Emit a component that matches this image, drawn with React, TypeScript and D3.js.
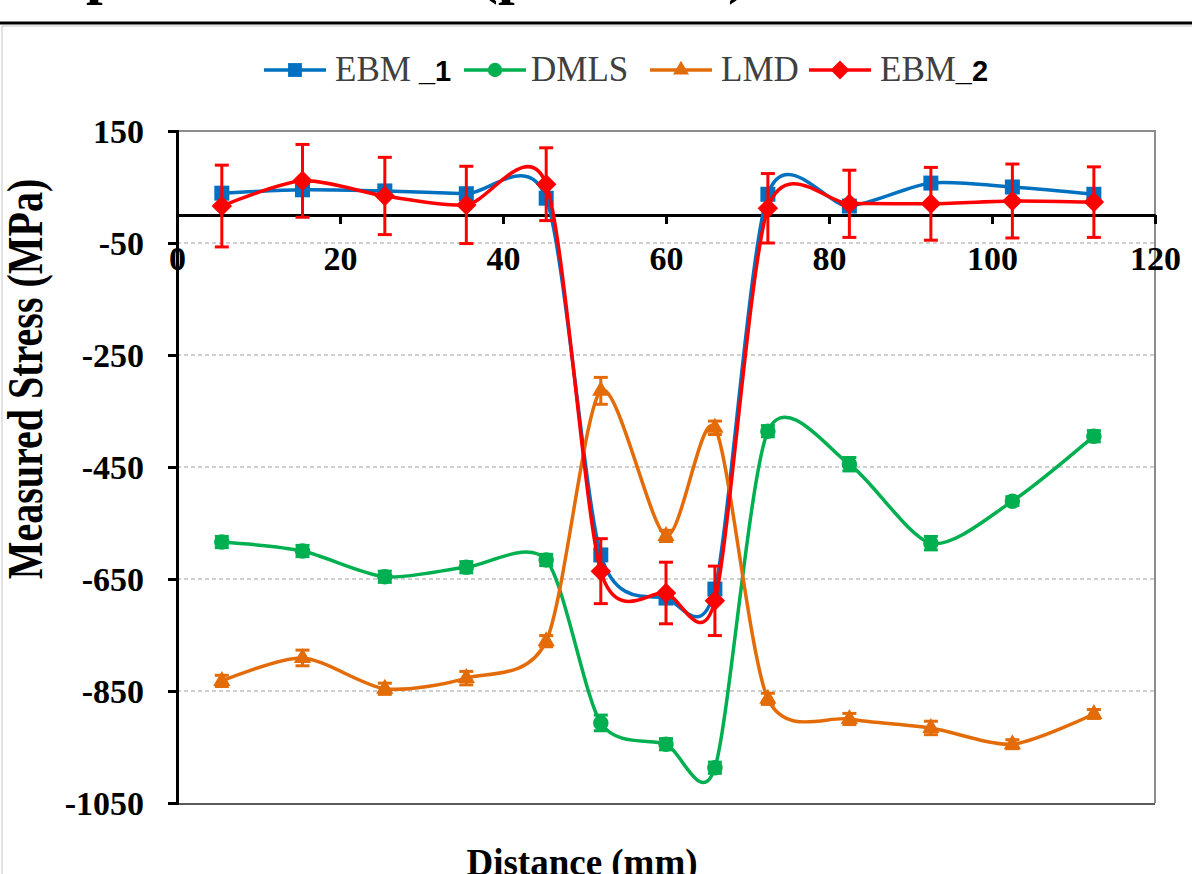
import React, { useRef, useEffect } from 'react'
import * as d3 from 'd3'

// distance along the sample (mm)
const distance = [5.5, 15.4, 25.5, 35.5, 45.3, 52, 60, 66, 72.5, 82.5, 92.5, 102.5, 112.5]

// measured stress (MPa)
const ebm1 = [39, 45, 43, 38, 30, -607, -684, -668, 37, 16, 57, 50, 37]
const dmls = [-584, -600, -646, -629, -616, -907, -945, -987, -386, -445, -586, -511, -395]
const dmlsErr = [10, 10, 10, 10, 10, 14, 10, 10, 10, 12, 12, 8, 10]
const lmd = [-832, -791, -846, -827, -761, -314, -573, -380, -864, -900, -916, -945, -891]
const lmdErr = [10, 14, 10, 12, 10, 24, 10, 12, 10, 10, 12, 8, 8]
const ebm2 = [16, 61, 34, 18, 55, -636, -675, -689, 12, 20, 20, 25, 23]
const ebm2Err = [73, 65, 69, 69, 65, 58, 55, 62, 62, 60, 65, 66, 63]

const xTicks = [0, 20, 40, 60, 80, 100, 120]
const yTicks = [150, -50, -250, -450, -650, -850, -1050]
const gridTicks = [-50, -250, -450, -650, -850]

const App = () => {
    const ref = useRef(null)
    useEffect(() => {
        document.body.style.margin = '0'
        const w = 1192
        const h = 874
        const svg = d3.select(ref.current)
            .attr('width', w)
            .attr('height', h)
            .style('background', 'white')
        svg.selectAll('*').remove()

        const serif = '"Liberation Serif", "Times New Roman", serif'
        const sans = '"Liberation Sans", Arial, sans-serif'

        // cropped title above the chart, only descenders show
        const title = svg.append('g')
            .style('font-family', serif)
            .style('font-weight', 'bold')
            .style('font-size', '60px')
            .attr('fill', 'black')
        title.append('text').attr('x', 86).attr('y', -8).text('p')
        title.append('text').attr('x', 478).attr('y', -8).text('(p')
        title.append('text').attr('x', 728).attr('y', -8).text(')')

        svg.append('line')
            .attr('x1', 0).attr('x2', w).attr('y1', 23).attr('y2', 23)
            .attr('stroke', 'black').attr('stroke-width', 3)
        svg.append('rect')
            .attr('x', 2).attr('y', 26).attr('width', w + 10).attr('height', h)
            .attr('fill', 'none').attr('stroke', '#d9d9d9').attr('stroke-width', 1.5)

        // scales
        const xScale = d3.scaleLinear().domain([0, 120]).range([177, 1155])
        const yScale = d3.scaleLinear().domain([-1050, 150]).range([803, 131])

        // dashed grid
        svg.append('g')
            .selectAll('line')
            .data(gridTicks)
            .join('line')
            .attr('x1', xScale(0)).attr('x2', xScale(120))
            .attr('y1', d => yScale(d)).attr('y2', d => yScale(d))
            .attr('stroke', '#c0c0c0')
            .attr('stroke-width', 1.5)
            .attr('stroke-dasharray', '4,3')

        // plot frame
        svg.append('path')
            .attr('d', `M${xScale(0)},${yScale(150)}H${xScale(120)}V${yScale(-1050)}`)
            .attr('fill', 'none').attr('stroke', '#8c8c8c').attr('stroke-width', 2)
        svg.append('line')
            .attr('x1', xScale(0)).attr('x2', xScale(120))
            .attr('y1', yScale(-1050) + 1).attr('y2', yScale(-1050) + 1)
            .attr('stroke', '#595959').attr('stroke-width', 2)

        // y axis
        const yAxis = d3.axisLeft(yScale)
            .tickValues(yTicks)
            .tickFormat(d => String(d))
            .tickSize(9)
            .tickPadding(24)
        const yg = svg.append('g')
            .attr('transform', `translate(${xScale(0)},0)`)
            .call(yAxis)
        yg.select('.domain').attr('stroke', 'black').attr('stroke-width', 3)
        yg.selectAll('.tick line').attr('stroke', 'black').attr('stroke-width', 3)
        yg.selectAll('text')
            .style('font-family', serif)
            .style('font-weight', 'bold')
            .style('font-size', '34px')
            .attr('fill', 'black')
            .attr('dy', '0.34em')

        // x axis on the zero line
        const xAxis = d3.axisBottom(xScale)
            .tickValues(xTicks)
            .tickFormat(d => String(d))
            .tickSize(9)
            .tickPadding(22)
            .tickSizeOuter(0)
        const xg = svg.append('g')
            .attr('transform', `translate(0,${yScale(0)})`)
            .call(xAxis)
        xg.select('.domain').attr('stroke', 'black').attr('stroke-width', 3)
        xg.selectAll('.tick line').attr('stroke', 'black').attr('stroke-width', 3)
        xg.selectAll('text')
            .style('font-family', serif)
            .style('font-weight', 'bold')
            .style('font-size', '34px')
            .attr('fill', 'black')

        // axis titles
        svg.append('text')
            .attr('transform', `translate(42,379) rotate(-90) scale(0.8,1)`)
            .attr('text-anchor', 'middle')
            .style('font-family', serif)
            .style('font-weight', 'bold')
            .style('font-size', '50px')
            .attr('fill', 'black')
            .text('Measured Stress (MPa)')
        svg.append('text')
            .attr('x', 582).attr('y', 875)
            .attr('text-anchor', 'middle')
            .style('font-family', serif)
            .style('font-weight', 'bold')
            .style('font-size', '37px')
            .attr('fill', 'black')
            .text('Distance (mm)')

        // series
        const series = [
            { name: 'EBM', tag: ' _1', values: ebm1, err: null, color: '#0070C0', symbol: d3.symbolSquare, size: 225, rot: 0 },
            { name: 'DMLS', tag: '', values: dmls, err: dmlsErr, color: '#00B050', symbol: d3.symbolCircle, size: 190, rot: 0 },
            { name: 'LMD', tag: '', values: lmd, err: lmdErr, color: '#E36C09', symbol: d3.symbolTriangle, size: 130, rot: 0 },
            { name: 'EBM', tag: '_2', values: ebm2, err: ebm2Err, color: '#FF0000', symbol: d3.symbolSquare, size: 210, rot: 45 },
        ]

        const line = d3.line()
            .x(d => xScale(d[0]))
            .y(d => yScale(d[1]))
            .curve(d3.curveCardinal.tension(0.2))

        series.forEach(s => {
            const pts = distance.map((d, i) => [d, s.values[i]])
            const g = svg.append('g')
            g.append('path')
                .datum(pts)
                .attr('d', line)
                .attr('fill', 'none')
                .attr('stroke', s.color)
                .attr('stroke-width', 3.5)

            if (s.err) {
                const err = s.err
                const eb = g.append('g')
                    .selectAll('g')
                    .data(pts)
                    .join('g')
                    .attr('stroke', s.color)
                    .attr('stroke-width', 3)
                eb.append('line')
                    .attr('x1', d => xScale(d[0])).attr('x2', d => xScale(d[0]))
                    .attr('y1', (d, i) => yScale(d[1] + err[i]))
                    .attr('y2', (d, i) => yScale(d[1] - err[i]))
                eb.append('line')
                    .attr('x1', d => xScale(d[0]) - 7).attr('x2', d => xScale(d[0]) + 7)
                    .attr('y1', (d, i) => yScale(d[1] + err[i]))
                    .attr('y2', (d, i) => yScale(d[1] + err[i]))
                eb.append('line')
                    .attr('x1', d => xScale(d[0]) - 7).attr('x2', d => xScale(d[0]) + 7)
                    .attr('y1', (d, i) => yScale(d[1] - err[i]))
                    .attr('y2', (d, i) => yScale(d[1] - err[i]))
            }

            g.append('g')
                .selectAll('path')
                .data(pts)
                .join('path')
                .attr('d', d3.symbol(s.symbol, s.size))
                .attr('transform', d => `translate(${xScale(d[0])},${yScale(d[1])}) rotate(${s.rot})`)
                .attr('fill', s.color)
        })

        // legend
        const legendX = [264, 464, 650, 809]
        const legend = svg.append('g')
        series.forEach((s, i) => {
            const lg = legend.append('g').attr('transform', `translate(${legendX[i]},70)`)
            lg.append('line')
                .attr('x1', 0).attr('x2', 62)
                .attr('stroke', s.color).attr('stroke-width', 3.5)
            lg.append('path')
                .attr('d', d3.symbol(s.symbol, s.size * 0.85))
                .attr('transform', `translate(31,0) rotate(${s.rot})`)
                .attr('fill', s.color)
            const t = lg.append('text')
                .attr('x', i === 1 ? 67 : 71)
                .attr('y', 11)
                .style('font-family', serif)
                .style('font-size', '35px')
                .attr('fill', '#404040')
            t.append('tspan').text(s.name)
            if (s.tag) {
                t.append('tspan')
                    .style('font-family', sans)
                    .style('font-weight', 'bold')
                    .style('font-size', '29px')
                    .attr('fill', 'black')
                    .text(s.tag)
            }
        })
    }, [])
    return (
        <svg ref={ref} style={{ position: 'absolute', left: 0, top: 0 }}></svg>
    )
}

export default App
